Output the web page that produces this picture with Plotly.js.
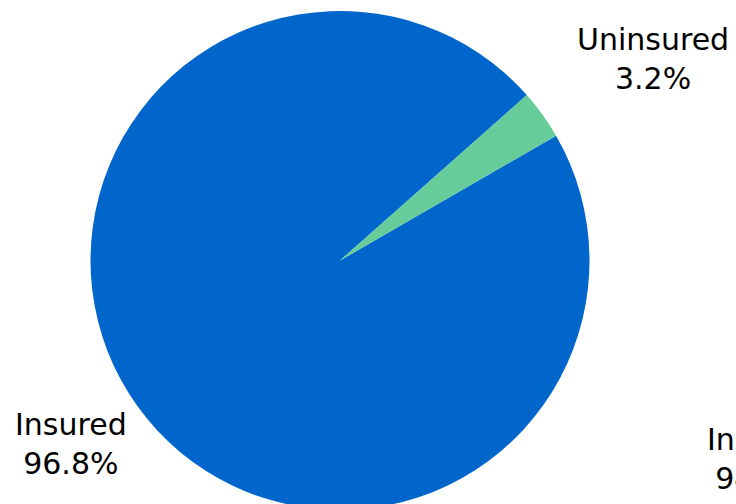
<!DOCTYPE html>
<html>
<head>
<meta charset="utf-8">
<script src="https://cdn.plot.ly/plotly-3.0.1.min.js"></script>
<style>
html, body { margin: 0; padding: 0; overflow: hidden; background: #ffffff; }
#chart { width: 1360px; height: 520px; }
</style>
</head>
<body>
<div id="chart"></div>
<script>
// Data
const categories = ["Insured", "Uninsured"];
const groupA = [96.8, 3.2];
const groupB = [94.5, 5.5];
const sliceColors = ["#0066CC", "#66CC99"];

// Layout / style settings
const FIG_W = 1360, FIG_H = 520;
const MARGIN = { l: 0, r: 0, t: 11, b: 10, pad: 0 };
const ROTATION = 60;
const LABEL_DIST_X = 1.1;    // horizontal label distance in radii
const LABEL_DIST_Y = 1.05;   // vertical label distance in radii
const LABEL_XSHIFT = 12;
const LABEL_YSHIFT = 9;
const labelFont = { family: "DejaVu Sans, Verdana, sans-serif", size: 30, color: "#000000" };

const domains = [
  { x: [0, 0.5], y: [0, 1] },
  { x: [0.5, 1], y: [0, 1] }
];
const groups = [groupA, groupB];

const plotW = FIG_W - MARGIN.l - MARGIN.r;
const plotH = FIG_H - MARGIN.t - MARGIN.b;

const traces = groups.map((vals, k) => ({
  type: "pie",
  labels: categories,
  values: vals,
  sort: false,
  direction: "counterclockwise",
  rotation: ROTATION,
  marker: { colors: sliceColors, line: { width: 0 } },
  textinfo: "none",
  hoverinfo: "none",
  showlegend: false,
  domain: domains[k]
}));

// Labels placed outside each slice, computed from the slice angles
const annotations = [];
groups.forEach((vals, k) => {
  const dom = domains[k];
  const total = vals.reduce((a, b) => a + b, 0);
  const boxW = plotW * (dom.x[1] - dom.x[0]);
  const boxH = plotH * (dom.y[1] - dom.y[0]);
  const rPx = Math.min(boxW, boxH) / 2;
  const cxPaper = (dom.x[0] + dom.x[1]) / 2;
  const cyPaper = (dom.y[0] + dom.y[1]) / 2;
  // counterclockwise: first slice ends at the rotation angle
  let a = ROTATION + 360 * vals[0] / total;
  vals.forEach((v, i) => {
    const frac = v / total;
    const mid = (a - 180 * frac) * Math.PI / 180;
    a -= 360 * frac;
    const sx = Math.sin(mid), cy = Math.cos(mid);
    const dxPx = LABEL_DIST_X * rPx * sx;
    const dyPx = LABEL_DIST_Y * rPx * cy; // upward positive
    annotations.push({
      xref: "paper", yref: "paper",
      x: cxPaper + dxPx / plotW,
      y: cyPaper + dyPx / plotH,
      xanchor: sx >= 0 ? "left" : "right",
      yanchor: cy >= 0 ? "bottom" : "top",
      xshift: LABEL_XSHIFT,
      yshift: LABEL_YSHIFT,
      text: categories[i] + "<br>" + v.toFixed(1) + "%",
      align: "center",
      showarrow: false,
      font: labelFont
    });
  });
});

const layout = {
  width: FIG_W,
  height: FIG_H,
  margin: MARGIN,
  paper_bgcolor: "#ffffff",
  plot_bgcolor: "#ffffff",
  showlegend: false,
  font: labelFont,
  annotations: annotations
};

Plotly.newPlot("chart", traces, layout, { displayModeBar: false, staticPlot: true });
</script>
</body>
</html>
